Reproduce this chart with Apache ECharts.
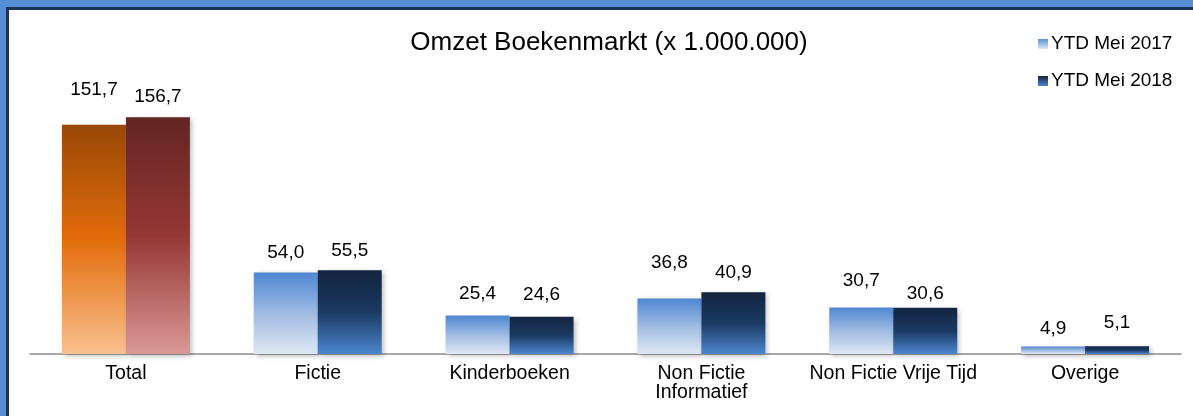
<!DOCTYPE html>
<html>
<head>
<meta charset="utf-8">
<style>
  html, body { margin: 0; padding: 0; background: #ffffff; }
  #chart-container { width: 1193px; height: 416px; }
</style>
<script src="https://cdn.jsdelivr.net/npm/echarts@6/dist/echarts.min.js"></script>
</head>
<body>
<div id="chart-container"></div>
<script>
var dom = document.getElementById("chart-container");
var myChart = echarts.init(dom, null, { renderer: "canvas" });

const categories = [
  "Total",
  "Fictie",
  "Kinderboeken",
  "Non Fictie\nInformatief",
  "Non Fictie Vrije Tijd",
  "Overige",
];
const seriesNames = ["YTD Mei 2017", "YTD Mei 2018"];
const ytd2017 = [151.7, 54.0, 25.4, 36.8, 30.7, 4.9];
const ytd2018 = [156.7, 55.5, 24.6, 40.9, 30.6, 5.1];

// label gap above each bar (px), the source chart places them by hand
const lift2017 = [25, 10, 12, 26, 17, 8];
const lift2018 = [11, 10, 13, 10, 4, 14];

function grad(stops) {
  return new echarts.graphic.LinearGradient(
    0, 0, 0, 1,
    stops.map(function (c, i) {
      return { offset: i / (stops.length - 1), color: c };
    })
  );
}

const blueLight = grad(["#4f87d2", "#9fbbe2", "#dfe8f3"]);
const blueDark = grad(["#13243f", "#1a3a62", "#4d86cf"]);
const orange = grad(["#984807", "#e36c0a", "#f9c18f"]);
const red = grad(["#632523", "#953735", "#da9896"]);

function fmt(p) {
  return p.value.toFixed(1).replace(".", ",");
}

function makeSeries(name, values, lifts, normal, total) {
  return {
    name: name,
    type: "bar",
    barGap: "0%",
    barCategoryGap: "33.3%",
    data: values.map(function (v, i) {
      return { value: v, label: { distance: lifts[i] } };
    }),
    itemStyle: {
      color: function (p) {
        return p.dataIndex === 0 ? total : normal;
      },
      shadowColor: "rgba(0, 0, 0, 0.28)",
      shadowBlur: 5,
      shadowOffsetX: 2,
      shadowOffsetY: 2,
    },
    label: {
      show: true,
      position: "top",
      formatter: fmt,
      color: "#000000",
      fontFamily: "Liberation Sans",
      fontSize: 19,
    },
    emphasis: { disabled: true },
  };
}

var option = {
  backgroundColor: "#ffffff",
  animation: false,
  title: {
    text: "Omzet Boekenmarkt (x 1.000.000)",
    left: 604,
    top: 25,
    textAlign: "center",
    textStyle: {
      fontFamily: "Liberation Sans",
      fontSize: 26,
      fontWeight: "normal",
      color: "#000000",
    },
  },
  legend: {
    orient: "vertical",
    left: 1033,
    top: 29,
    itemWidth: 10,
    itemHeight: 10,
    itemGap: 17,
    icon: "rect",
    data: [
      { name: seriesNames[0], itemStyle: { color: grad(["#5b8fd6", "#dfe8f3"]) } },
      { name: seriesNames[1], itemStyle: { color: grad(["#13243f", "#4d86cf"]) } },
    ],
    textStyle: {
      fontFamily: "Liberation Sans",
      fontSize: 19,
      color: "#000000",
      padding: [0, 0, 0, -2],
      lineHeight: 20,
    },
  },
  grid: {
    left: 30,
    right: 12,
    top: 82,
    bottom: 62,
  },
  xAxis: {
    type: "category",
    data: categories,
    axisLine: { lineStyle: { color: "#8c8c8c", width: 1.5 } },
    axisTick: { show: false },
    axisLabel: {
      interval: 0,
      margin: 10,
      fontFamily: "Liberation Sans",
      fontSize: 19.5,
      lineHeight: 19,
      color: "#000000",
    },
  },
  yAxis: {
    type: "value",
    min: 0,
    max: 180,
    show: false,
    splitLine: { show: false },
  },
  graphic: [
    { type: "rect", shape: { x: 0, y: 0, width: 1193, height: 8 }, style: { fill: "#558ed5" }, z: 100 },
    { type: "rect", shape: { x: 0, y: 0, width: 6, height: 416 }, style: { fill: "#558ed5" }, z: 100 },
    { type: "rect", shape: { x: 6, y: 7, width: 1187, height: 3 }, style: { fill: "#1b3455" }, z: 101 },
    { type: "rect", shape: { x: 6, y: 7, width: 3, height: 409 }, style: { fill: "#1b3455" }, z: 101 },
  ],
  series: [
    makeSeries(seriesNames[0], ytd2017, lift2017, blueLight, orange),
    makeSeries(seriesNames[1], ytd2018, lift2018, blueDark, red),
  ],
};

myChart.setOption(option);
window.addEventListener("resize", myChart.resize);
</script>
</body>
</html>
